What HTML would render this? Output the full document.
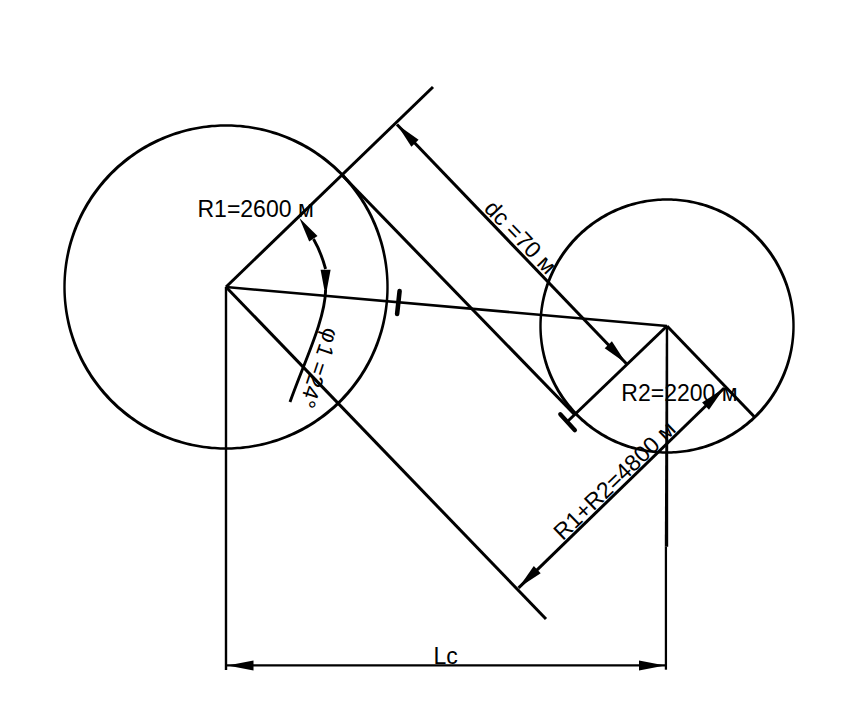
<!DOCTYPE html>
<html><head><meta charset="utf-8"><style>
html,body{margin:0;padding:0;background:#fff;width:849px;height:724px;overflow:hidden}
svg{display:block}
text{font-family:"Liberation Sans",sans-serif;fill:#000}
</style></head><body>
<svg width="849" height="724" viewBox="0 0 849 724">
<rect width="849" height="724" fill="#fff"/>
<g fill="#000">
<path fill-rule="evenodd" d="M388.70,287.00 L388.69,289.84 L388.63,292.68 L388.51,295.52 L388.35,298.35 L388.14,301.19 L387.88,304.01 L387.57,306.84 L387.21,309.66 L386.80,312.47 L386.34,315.27 L385.84,318.07 L385.28,320.86 L384.67,323.63 L384.02,326.40 L383.32,329.15 L382.57,331.89 L381.77,334.62 L380.92,337.34 L380.03,340.04 L379.08,342.72 L378.10,345.38 L377.06,348.03 L375.98,350.66 L374.85,353.27 L373.68,355.86 L372.46,358.43 L371.20,360.98 L369.89,363.51 L368.53,366.01 L367.14,368.49 L365.70,370.94 L364.22,373.37 L362.69,375.77 L361.12,378.14 L359.52,380.49 L357.87,382.81 L356.18,385.09 L354.45,387.35 L352.68,389.58 L350.87,391.78 L349.02,393.94 L347.14,396.07 L345.22,398.17 L343.26,400.23 L341.26,402.26 L339.23,404.26 L337.17,406.22 L335.07,408.14 L332.94,410.02 L330.78,411.87 L328.58,413.68 L326.35,415.45 L324.09,417.18 L321.81,418.87 L319.49,420.52 L317.14,422.12 L314.77,423.69 L312.37,425.22 L309.94,426.70 L307.49,428.14 L305.01,429.53 L302.51,430.89 L299.98,432.20 L297.43,433.46 L294.86,434.68 L292.27,435.85 L289.66,436.98 L287.03,438.06 L284.38,439.10 L281.72,440.08 L279.04,441.03 L276.34,441.92 L273.62,442.77 L270.89,443.57 L268.15,444.32 L265.40,445.02 L262.63,445.67 L259.86,446.28 L257.07,446.84 L254.27,447.34 L251.47,447.80 L248.66,448.21 L245.84,448.57 L243.01,448.88 L240.19,449.14 L237.35,449.35 L234.52,449.51 L231.68,449.63 L228.84,449.69 L226.00,449.70 L223.16,449.69 L220.32,449.63 L217.48,449.51 L214.65,449.35 L211.81,449.14 L208.99,448.88 L206.16,448.57 L203.34,448.21 L200.53,447.80 L197.73,447.34 L194.93,446.84 L192.14,446.28 L189.37,445.67 L186.60,445.02 L183.85,444.32 L181.11,443.57 L178.38,442.77 L175.66,441.92 L172.96,441.03 L170.28,440.08 L167.62,439.10 L164.97,438.06 L162.34,436.98 L159.73,435.85 L157.14,434.68 L154.57,433.46 L152.02,432.20 L149.49,430.89 L146.99,429.53 L144.51,428.14 L142.06,426.70 L139.63,425.22 L137.23,423.69 L134.86,422.12 L132.51,420.52 L130.19,418.87 L127.91,417.18 L125.65,415.45 L123.42,413.68 L121.22,411.87 L119.06,410.02 L116.93,408.14 L114.83,406.22 L112.77,404.26 L110.74,402.26 L108.74,400.23 L106.78,398.17 L104.86,396.07 L102.98,393.94 L101.13,391.78 L99.32,389.58 L97.55,387.35 L95.82,385.09 L94.13,382.81 L92.48,380.49 L90.88,378.14 L89.31,375.77 L87.78,373.37 L86.30,370.94 L84.86,368.49 L83.47,366.01 L82.11,363.51 L80.80,360.98 L79.54,358.43 L78.32,355.86 L77.15,353.27 L76.02,350.66 L74.94,348.03 L73.90,345.38 L72.92,342.72 L71.97,340.04 L71.08,337.34 L70.23,334.62 L69.43,331.89 L68.68,329.15 L67.98,326.40 L67.33,323.63 L66.72,320.86 L66.16,318.07 L65.66,315.27 L65.20,312.47 L64.79,309.66 L64.43,306.84 L64.12,304.01 L63.86,301.19 L63.65,298.35 L63.49,295.52 L63.37,292.68 L63.31,289.84 L63.30,287.00 L63.31,284.16 L63.37,281.32 L63.49,278.48 L63.65,275.65 L63.86,272.81 L64.12,269.99 L64.43,267.16 L64.79,264.34 L65.20,261.53 L65.66,258.73 L66.16,255.93 L66.72,253.14 L67.33,250.37 L67.98,247.60 L68.68,244.85 L69.43,242.11 L70.23,239.38 L71.08,236.66 L71.97,233.96 L72.92,231.28 L73.90,228.62 L74.94,225.97 L76.02,223.34 L77.15,220.73 L78.32,218.14 L79.54,215.57 L80.80,213.02 L82.11,210.49 L83.47,207.99 L84.86,205.51 L86.30,203.06 L87.78,200.63 L89.31,198.23 L90.88,195.86 L92.48,193.51 L94.13,191.19 L95.82,188.91 L97.55,186.65 L99.32,184.42 L101.13,182.22 L102.98,180.06 L104.86,177.93 L106.78,175.83 L108.74,173.77 L110.74,171.74 L112.77,169.74 L114.83,167.78 L116.93,165.86 L119.06,163.98 L121.22,162.13 L123.42,160.32 L125.65,158.55 L127.91,156.82 L130.19,155.13 L132.51,153.48 L134.86,151.88 L137.23,150.31 L139.63,148.78 L142.06,147.30 L144.51,145.86 L146.99,144.47 L149.49,143.11 L152.02,141.80 L154.57,140.54 L157.14,139.32 L159.73,138.15 L162.34,137.02 L164.97,135.94 L167.62,134.90 L170.28,133.92 L172.96,132.97 L175.66,132.08 L178.38,131.23 L181.11,130.43 L183.85,129.68 L186.60,128.98 L189.37,128.33 L192.14,127.72 L194.93,127.16 L197.73,126.66 L200.53,126.20 L203.34,125.79 L206.16,125.43 L208.99,125.12 L211.81,124.86 L214.65,124.65 L217.48,124.49 L220.32,124.37 L223.16,124.31 L226.00,124.30 L228.84,124.31 L231.68,124.37 L234.52,124.49 L237.35,124.65 L240.19,124.86 L243.01,125.12 L245.84,125.43 L248.66,125.79 L251.47,126.20 L254.27,126.66 L257.07,127.16 L259.86,127.72 L262.63,128.33 L265.40,128.98 L268.15,129.68 L270.89,130.43 L273.62,131.23 L276.34,132.08 L279.04,132.97 L281.72,133.92 L284.38,134.90 L287.03,135.94 L289.66,137.02 L292.27,138.15 L294.86,139.32 L297.43,140.54 L299.98,141.80 L302.51,143.11 L305.01,144.47 L307.49,145.86 L309.94,147.30 L312.37,148.78 L314.77,150.31 L317.14,151.88 L319.49,153.48 L321.81,155.13 L324.09,156.82 L326.35,158.55 L328.58,160.32 L330.78,162.13 L332.94,163.98 L335.07,165.86 L337.17,167.78 L339.23,169.74 L341.26,171.74 L343.26,173.77 L345.22,175.83 L347.14,177.93 L349.02,180.06 L350.87,182.22 L352.68,184.42 L354.45,186.65 L356.18,188.91 L357.87,191.19 L359.52,193.51 L361.12,195.86 L362.69,198.23 L364.22,200.63 L365.70,203.06 L367.14,205.51 L368.53,207.99 L369.89,210.49 L371.20,213.02 L372.46,215.57 L373.68,218.14 L374.85,220.73 L375.98,223.34 L377.06,225.97 L378.10,228.62 L379.08,231.28 L380.03,233.96 L380.92,236.66 L381.77,239.38 L382.57,242.11 L383.32,244.85 L384.02,247.60 L384.67,250.37 L385.28,253.14 L385.84,255.93 L386.34,258.73 L386.80,261.53 L387.21,264.34 L387.57,267.16 L387.88,269.99 L388.14,272.81 L388.35,275.65 L388.51,278.48 L388.63,281.32 L388.69,284.16Z M386.30,287.00 L386.26,289.80 L386.18,292.59 L386.04,295.39 L385.86,298.18 L385.63,300.97 L385.35,303.75 L385.02,306.53 L384.64,309.30 L384.22,312.06 L383.75,314.82 L383.23,317.56 L382.66,320.30 L382.05,323.03 L381.39,325.74 L380.68,328.45 L379.92,331.14 L379.12,333.81 L378.27,336.48 L377.38,339.12 L376.44,341.75 L375.45,344.37 L374.42,346.97 L373.34,349.54 L372.22,352.10 L371.06,354.64 L369.85,357.16 L368.60,359.66 L367.30,362.13 L365.97,364.59 L364.59,367.01 L363.17,369.42 L361.70,371.80 L360.20,374.15 L358.66,376.48 L357.07,378.78 L355.45,381.05 L353.78,383.29 L352.08,385.51 L350.34,387.69 L348.56,389.84 L346.75,391.97 L344.90,394.06 L343.01,396.11 L341.09,398.14 L339.13,400.13 L337.14,402.09 L335.11,404.01 L333.06,405.90 L330.97,407.75 L328.84,409.56 L326.69,411.34 L324.51,413.08 L322.29,414.78 L320.05,416.45 L317.78,418.07 L315.48,419.66 L313.15,421.20 L310.80,422.70 L308.42,424.17 L306.01,425.59 L303.59,426.97 L301.13,428.30 L298.66,429.60 L296.16,430.85 L293.64,432.06 L291.10,433.22 L288.54,434.34 L285.97,435.42 L283.37,436.45 L280.75,437.44 L278.12,438.38 L275.48,439.27 L272.81,440.12 L270.14,440.92 L267.45,441.68 L264.74,442.39 L262.03,443.05 L259.30,443.66 L256.56,444.23 L253.82,444.75 L251.06,445.22 L248.30,445.64 L245.53,446.02 L242.75,446.35 L239.97,446.63 L237.18,446.86 L234.39,447.04 L231.59,447.18 L228.80,447.26 L226.00,447.30 L223.20,447.26 L220.41,447.18 L217.61,447.04 L214.82,446.86 L212.03,446.63 L209.25,446.35 L206.47,446.02 L203.70,445.64 L200.94,445.22 L198.18,444.75 L195.44,444.23 L192.70,443.66 L189.97,443.05 L187.26,442.39 L184.55,441.68 L181.86,440.92 L179.19,440.12 L176.52,439.27 L173.88,438.38 L171.25,437.44 L168.63,436.45 L166.03,435.42 L163.46,434.34 L160.90,433.22 L158.36,432.06 L155.84,430.85 L153.34,429.60 L150.87,428.30 L148.41,426.97 L145.99,425.59 L143.58,424.17 L141.20,422.70 L138.85,421.20 L136.52,419.66 L134.22,418.07 L131.95,416.45 L129.71,414.78 L127.49,413.08 L125.31,411.34 L123.16,409.56 L121.03,407.75 L118.94,405.90 L116.89,404.01 L114.86,402.09 L112.87,400.13 L110.91,398.14 L108.99,396.11 L107.10,394.06 L105.25,391.97 L103.44,389.84 L101.66,387.69 L99.92,385.51 L98.22,383.29 L96.55,381.05 L94.93,378.78 L93.34,376.48 L91.80,374.15 L90.30,371.80 L88.83,369.42 L87.41,367.01 L86.03,364.59 L84.70,362.13 L83.40,359.66 L82.15,357.16 L80.94,354.64 L79.78,352.10 L78.66,349.54 L77.58,346.97 L76.55,344.37 L75.56,341.75 L74.62,339.12 L73.73,336.48 L72.88,333.81 L72.08,331.14 L71.32,328.45 L70.61,325.74 L69.95,323.03 L69.34,320.30 L68.77,317.56 L68.25,314.82 L67.78,312.06 L67.36,309.30 L66.98,306.53 L66.65,303.75 L66.37,300.97 L66.14,298.18 L65.96,295.39 L65.82,292.59 L65.74,289.80 L65.70,287.00 L65.74,284.20 L65.82,281.41 L65.96,278.61 L66.14,275.82 L66.37,273.03 L66.65,270.25 L66.98,267.47 L67.36,264.70 L67.78,261.94 L68.25,259.18 L68.77,256.44 L69.34,253.70 L69.95,250.97 L70.61,248.26 L71.32,245.55 L72.08,242.86 L72.88,240.19 L73.73,237.52 L74.62,234.88 L75.56,232.25 L76.55,229.63 L77.58,227.03 L78.66,224.46 L79.78,221.90 L80.94,219.36 L82.15,216.84 L83.40,214.34 L84.70,211.87 L86.03,209.41 L87.41,206.99 L88.83,204.58 L90.30,202.20 L91.80,199.85 L93.34,197.52 L94.93,195.22 L96.55,192.95 L98.22,190.71 L99.92,188.49 L101.66,186.31 L103.44,184.16 L105.25,182.03 L107.10,179.94 L108.99,177.89 L110.91,175.86 L112.87,173.87 L114.86,171.91 L116.89,169.99 L118.94,168.10 L121.03,166.25 L123.16,164.44 L125.31,162.66 L127.49,160.92 L129.71,159.22 L131.95,157.55 L134.22,155.93 L136.52,154.34 L138.85,152.80 L141.20,151.30 L143.58,149.83 L145.99,148.41 L148.41,147.03 L150.87,145.70 L153.34,144.40 L155.84,143.15 L158.36,141.94 L160.90,140.78 L163.46,139.66 L166.03,138.58 L168.63,137.55 L171.25,136.56 L173.88,135.62 L176.52,134.73 L179.19,133.88 L181.86,133.08 L184.55,132.32 L187.26,131.61 L189.97,130.95 L192.70,130.34 L195.44,129.77 L198.18,129.25 L200.94,128.78 L203.70,128.36 L206.47,127.98 L209.25,127.65 L212.03,127.37 L214.82,127.14 L217.61,126.96 L220.41,126.82 L223.20,126.74 L226.00,126.70 L228.80,126.74 L231.59,126.82 L234.39,126.96 L237.18,127.14 L239.97,127.37 L242.75,127.65 L245.53,127.98 L248.30,128.36 L251.06,128.78 L253.82,129.25 L256.56,129.77 L259.30,130.34 L262.03,130.95 L264.74,131.61 L267.45,132.32 L270.14,133.08 L272.81,133.88 L275.48,134.73 L278.12,135.62 L280.75,136.56 L283.37,137.55 L285.97,138.58 L288.54,139.66 L291.10,140.78 L293.64,141.94 L296.16,143.15 L298.66,144.40 L301.13,145.70 L303.59,147.03 L306.01,148.41 L308.42,149.83 L310.80,151.30 L313.15,152.80 L315.48,154.34 L317.78,155.93 L320.05,157.55 L322.29,159.22 L324.51,160.92 L326.69,162.66 L328.84,164.44 L330.97,166.25 L333.06,168.10 L335.11,169.99 L337.14,171.91 L339.13,173.87 L341.09,175.86 L343.01,177.89 L344.90,179.94 L346.75,182.03 L348.56,184.16 L350.34,186.31 L352.08,188.49 L353.78,190.71 L355.45,192.95 L357.07,195.22 L358.66,197.52 L360.20,199.85 L361.70,202.20 L363.17,204.58 L364.59,206.99 L365.97,209.41 L367.30,211.87 L368.60,214.34 L369.85,216.84 L371.06,219.36 L372.22,221.90 L373.34,224.46 L374.42,227.03 L375.45,229.63 L376.44,232.25 L377.38,234.88 L378.27,237.52 L379.12,240.19 L379.92,242.86 L380.68,245.55 L381.39,248.26 L382.05,250.97 L382.66,253.70 L383.23,256.44 L383.75,259.18 L384.22,261.94 L384.64,264.70 L385.02,267.47 L385.35,270.25 L385.63,273.03 L385.86,275.82 L386.04,278.61 L386.18,281.41 L386.26,284.20Z"/>
<path fill-rule="evenodd" d="M794.70,326.00 L794.69,328.23 L794.65,330.46 L794.56,332.69 L794.44,334.91 L794.28,337.14 L794.07,339.36 L793.83,341.57 L793.55,343.79 L793.23,345.99 L792.88,348.20 L792.48,350.39 L792.04,352.58 L791.57,354.76 L791.06,356.93 L790.51,359.09 L789.92,361.25 L789.30,363.39 L788.63,365.52 L787.93,367.64 L787.20,369.75 L786.42,371.84 L785.61,373.92 L784.76,375.99 L783.88,378.04 L782.96,380.07 L782.00,382.09 L781.01,384.09 L779.98,386.07 L778.92,388.04 L777.83,389.99 L776.70,391.91 L775.53,393.82 L774.34,395.71 L773.11,397.57 L771.85,399.41 L770.55,401.23 L769.22,403.03 L767.87,404.80 L766.48,406.55 L765.06,408.28 L763.61,409.98 L762.13,411.65 L760.62,413.30 L759.08,414.92 L757.52,416.52 L755.92,418.08 L754.30,419.62 L752.65,421.13 L750.98,422.61 L749.28,424.06 L747.55,425.48 L745.80,426.87 L744.03,428.22 L742.23,429.55 L740.41,430.85 L738.57,432.11 L736.71,433.34 L734.82,434.53 L732.91,435.70 L730.99,436.83 L729.04,437.92 L727.07,438.98 L725.09,440.01 L723.09,441.00 L721.07,441.96 L719.04,442.88 L716.99,443.76 L714.92,444.61 L712.84,445.42 L710.75,446.20 L708.64,446.93 L706.52,447.63 L704.39,448.30 L702.25,448.92 L700.09,449.51 L697.93,450.06 L695.76,450.57 L693.58,451.04 L691.39,451.48 L689.20,451.88 L686.99,452.23 L684.79,452.55 L682.57,452.83 L680.36,453.07 L678.14,453.28 L675.91,453.44 L673.69,453.56 L671.46,453.65 L669.23,453.69 L667.00,453.70 L664.77,453.69 L662.54,453.65 L660.31,453.56 L658.09,453.44 L655.86,453.28 L653.64,453.07 L651.43,452.83 L649.21,452.55 L647.01,452.23 L644.80,451.88 L642.61,451.48 L640.42,451.04 L638.24,450.57 L636.07,450.06 L633.91,449.51 L631.75,448.92 L629.61,448.30 L627.48,447.63 L625.36,446.93 L623.25,446.20 L621.16,445.42 L619.08,444.61 L617.01,443.76 L614.96,442.88 L612.93,441.96 L610.91,441.00 L608.91,440.01 L606.93,438.98 L604.96,437.92 L603.01,436.83 L601.09,435.70 L599.18,434.53 L597.29,433.34 L595.43,432.11 L593.59,430.85 L591.77,429.55 L589.97,428.22 L588.20,426.87 L586.45,425.48 L584.72,424.06 L583.02,422.61 L581.35,421.13 L579.70,419.62 L578.08,418.08 L576.48,416.52 L574.92,414.92 L573.38,413.30 L571.87,411.65 L570.39,409.98 L568.94,408.28 L567.52,406.55 L566.13,404.80 L564.78,403.03 L563.45,401.23 L562.15,399.41 L560.89,397.57 L559.66,395.71 L558.47,393.82 L557.30,391.91 L556.17,389.99 L555.08,388.04 L554.02,386.07 L552.99,384.09 L552.00,382.09 L551.04,380.07 L550.12,378.04 L549.24,375.99 L548.39,373.92 L547.58,371.84 L546.80,369.75 L546.07,367.64 L545.37,365.52 L544.70,363.39 L544.08,361.25 L543.49,359.09 L542.94,356.93 L542.43,354.76 L541.96,352.58 L541.52,350.39 L541.12,348.20 L540.77,345.99 L540.45,343.79 L540.17,341.57 L539.93,339.36 L539.72,337.14 L539.56,334.91 L539.44,332.69 L539.35,330.46 L539.31,328.23 L539.30,326.00 L539.31,323.77 L539.35,321.54 L539.44,319.31 L539.56,317.09 L539.72,314.86 L539.93,312.64 L540.17,310.43 L540.45,308.21 L540.77,306.01 L541.12,303.80 L541.52,301.61 L541.96,299.42 L542.43,297.24 L542.94,295.07 L543.49,292.91 L544.08,290.75 L544.70,288.61 L545.37,286.48 L546.07,284.36 L546.80,282.25 L547.58,280.16 L548.39,278.08 L549.24,276.01 L550.12,273.96 L551.04,271.93 L552.00,269.91 L552.99,267.91 L554.02,265.93 L555.08,263.96 L556.17,262.01 L557.30,260.09 L558.47,258.18 L559.66,256.29 L560.89,254.43 L562.15,252.59 L563.45,250.77 L564.78,248.97 L566.13,247.20 L567.52,245.45 L568.94,243.72 L570.39,242.02 L571.87,240.35 L573.38,238.70 L574.92,237.08 L576.48,235.48 L578.08,233.92 L579.70,232.38 L581.35,230.87 L583.02,229.39 L584.72,227.94 L586.45,226.52 L588.20,225.13 L589.97,223.78 L591.77,222.45 L593.59,221.15 L595.43,219.89 L597.29,218.66 L599.18,217.47 L601.09,216.30 L603.01,215.17 L604.96,214.08 L606.93,213.02 L608.91,211.99 L610.91,211.00 L612.93,210.04 L614.96,209.12 L617.01,208.24 L619.08,207.39 L621.16,206.58 L623.25,205.80 L625.36,205.07 L627.48,204.37 L629.61,203.70 L631.75,203.08 L633.91,202.49 L636.07,201.94 L638.24,201.43 L640.42,200.96 L642.61,200.52 L644.80,200.12 L647.01,199.77 L649.21,199.45 L651.43,199.17 L653.64,198.93 L655.86,198.72 L658.09,198.56 L660.31,198.44 L662.54,198.35 L664.77,198.31 L667.00,198.30 L669.23,198.31 L671.46,198.35 L673.69,198.44 L675.91,198.56 L678.14,198.72 L680.36,198.93 L682.57,199.17 L684.79,199.45 L686.99,199.77 L689.20,200.12 L691.39,200.52 L693.58,200.96 L695.76,201.43 L697.93,201.94 L700.09,202.49 L702.25,203.08 L704.39,203.70 L706.52,204.37 L708.64,205.07 L710.75,205.80 L712.84,206.58 L714.92,207.39 L716.99,208.24 L719.04,209.12 L721.07,210.04 L723.09,211.00 L725.09,211.99 L727.07,213.02 L729.04,214.08 L730.99,215.17 L732.91,216.30 L734.82,217.47 L736.71,218.66 L738.57,219.89 L740.41,221.15 L742.23,222.45 L744.03,223.78 L745.80,225.13 L747.55,226.52 L749.28,227.94 L750.98,229.39 L752.65,230.87 L754.30,232.38 L755.92,233.92 L757.52,235.48 L759.08,237.08 L760.62,238.70 L762.13,240.35 L763.61,242.02 L765.06,243.72 L766.48,245.45 L767.87,247.20 L769.22,248.97 L770.55,250.77 L771.85,252.59 L773.11,254.43 L774.34,256.29 L775.53,258.18 L776.70,260.09 L777.83,262.01 L778.92,263.96 L779.98,265.93 L781.01,267.91 L782.00,269.91 L782.96,271.93 L783.88,273.96 L784.76,276.01 L785.61,278.08 L786.42,280.16 L787.20,282.25 L787.93,284.36 L788.63,286.48 L789.30,288.61 L789.92,290.75 L790.51,292.91 L791.06,295.07 L791.57,297.24 L792.04,299.42 L792.48,301.61 L792.88,303.80 L793.23,306.01 L793.55,308.21 L793.83,310.43 L794.07,312.64 L794.28,314.86 L794.44,317.09 L794.56,319.31 L794.65,321.54 L794.69,323.77Z M792.30,326.00 L792.27,328.19 L792.20,330.37 L792.09,332.56 L791.94,334.74 L791.76,336.92 L791.54,339.09 L791.28,341.26 L790.99,343.42 L790.65,345.58 L790.28,347.74 L789.87,349.88 L789.43,352.02 L788.94,354.15 L788.42,356.27 L787.87,358.39 L787.28,360.49 L786.65,362.58 L785.98,364.66 L785.28,366.73 L784.55,368.78 L783.77,370.83 L782.97,372.85 L782.13,374.87 L781.25,376.87 L780.34,378.85 L779.39,380.82 L778.41,382.77 L777.40,384.70 L776.36,386.62 L775.28,388.51 L774.17,390.39 L773.02,392.25 L771.85,394.09 L770.64,395.91 L769.40,397.70 L768.13,399.48 L766.83,401.23 L765.50,402.96 L764.14,404.66 L762.75,406.35 L761.33,408.00 L759.89,409.64 L758.41,411.24 L756.91,412.83 L755.38,414.38 L753.83,415.91 L752.24,417.41 L750.64,418.89 L749.00,420.33 L747.35,421.75 L745.66,423.14 L743.96,424.50 L742.23,425.83 L740.48,427.13 L738.70,428.40 L736.91,429.64 L735.09,430.85 L733.25,432.02 L731.39,433.17 L729.51,434.28 L727.62,435.36 L725.70,436.40 L723.77,437.41 L721.82,438.39 L719.85,439.34 L717.87,440.25 L715.87,441.13 L713.85,441.97 L711.83,442.77 L709.78,443.55 L707.73,444.28 L705.66,444.98 L703.58,445.65 L701.49,446.28 L699.39,446.87 L697.27,447.42 L695.15,447.94 L693.02,448.43 L690.88,448.87 L688.74,449.28 L686.58,449.65 L684.42,449.99 L682.26,450.28 L680.09,450.54 L677.92,450.76 L675.74,450.94 L673.56,451.09 L671.37,451.20 L669.19,451.27 L667.00,451.30 L664.81,451.27 L662.63,451.20 L660.44,451.09 L658.26,450.94 L656.08,450.76 L653.91,450.54 L651.74,450.28 L649.58,449.99 L647.42,449.65 L645.26,449.28 L643.12,448.87 L640.98,448.43 L638.85,447.94 L636.73,447.42 L634.61,446.87 L632.51,446.28 L630.42,445.65 L628.34,444.98 L626.27,444.28 L624.22,443.55 L622.17,442.77 L620.15,441.97 L618.13,441.13 L616.13,440.25 L614.15,439.34 L612.18,438.39 L610.23,437.41 L608.30,436.40 L606.38,435.36 L604.49,434.28 L602.61,433.17 L600.75,432.02 L598.91,430.85 L597.09,429.64 L595.30,428.40 L593.52,427.13 L591.77,425.83 L590.04,424.50 L588.34,423.14 L586.65,421.75 L585.00,420.33 L583.36,418.89 L581.76,417.41 L580.17,415.91 L578.62,414.38 L577.09,412.83 L575.59,411.24 L574.11,409.64 L572.67,408.00 L571.25,406.35 L569.86,404.66 L568.50,402.96 L567.17,401.23 L565.87,399.48 L564.60,397.70 L563.36,395.91 L562.15,394.09 L560.98,392.25 L559.83,390.39 L558.72,388.51 L557.64,386.62 L556.60,384.70 L555.59,382.77 L554.61,380.82 L553.66,378.85 L552.75,376.87 L551.87,374.87 L551.03,372.85 L550.23,370.83 L549.45,368.78 L548.72,366.73 L548.02,364.66 L547.35,362.58 L546.72,360.49 L546.13,358.39 L545.58,356.27 L545.06,354.15 L544.57,352.02 L544.13,349.88 L543.72,347.74 L543.35,345.58 L543.01,343.42 L542.72,341.26 L542.46,339.09 L542.24,336.92 L542.06,334.74 L541.91,332.56 L541.80,330.37 L541.73,328.19 L541.70,326.00 L541.73,323.81 L541.80,321.63 L541.91,319.44 L542.06,317.26 L542.24,315.08 L542.46,312.91 L542.72,310.74 L543.01,308.58 L543.35,306.42 L543.72,304.26 L544.13,302.12 L544.57,299.98 L545.06,297.85 L545.58,295.73 L546.13,293.61 L546.72,291.51 L547.35,289.42 L548.02,287.34 L548.72,285.27 L549.45,283.22 L550.23,281.17 L551.03,279.15 L551.87,277.13 L552.75,275.13 L553.66,273.15 L554.61,271.18 L555.59,269.23 L556.60,267.30 L557.64,265.38 L558.72,263.49 L559.83,261.61 L560.98,259.75 L562.15,257.91 L563.36,256.09 L564.60,254.30 L565.87,252.52 L567.17,250.77 L568.50,249.04 L569.86,247.34 L571.25,245.65 L572.67,244.00 L574.11,242.36 L575.59,240.76 L577.09,239.17 L578.62,237.62 L580.17,236.09 L581.76,234.59 L583.36,233.11 L585.00,231.67 L586.65,230.25 L588.34,228.86 L590.04,227.50 L591.77,226.17 L593.52,224.87 L595.30,223.60 L597.09,222.36 L598.91,221.15 L600.75,219.98 L602.61,218.83 L604.49,217.72 L606.38,216.64 L608.30,215.60 L610.23,214.59 L612.18,213.61 L614.15,212.66 L616.13,211.75 L618.13,210.87 L620.15,210.03 L622.17,209.23 L624.22,208.45 L626.27,207.72 L628.34,207.02 L630.42,206.35 L632.51,205.72 L634.61,205.13 L636.73,204.58 L638.85,204.06 L640.98,203.57 L643.12,203.13 L645.26,202.72 L647.42,202.35 L649.58,202.01 L651.74,201.72 L653.91,201.46 L656.08,201.24 L658.26,201.06 L660.44,200.91 L662.63,200.80 L664.81,200.73 L667.00,200.70 L669.19,200.73 L671.37,200.80 L673.56,200.91 L675.74,201.06 L677.92,201.24 L680.09,201.46 L682.26,201.72 L684.42,202.01 L686.58,202.35 L688.74,202.72 L690.88,203.13 L693.02,203.57 L695.15,204.06 L697.27,204.58 L699.39,205.13 L701.49,205.72 L703.58,206.35 L705.66,207.02 L707.73,207.72 L709.78,208.45 L711.83,209.23 L713.85,210.03 L715.87,210.87 L717.87,211.75 L719.85,212.66 L721.82,213.61 L723.77,214.59 L725.70,215.60 L727.62,216.64 L729.51,217.72 L731.39,218.83 L733.25,219.98 L735.09,221.15 L736.91,222.36 L738.70,223.60 L740.48,224.87 L742.23,226.17 L743.96,227.50 L745.66,228.86 L747.35,230.25 L749.00,231.67 L750.64,233.11 L752.24,234.59 L753.83,236.09 L755.38,237.62 L756.91,239.17 L758.41,240.76 L759.89,242.36 L761.33,244.00 L762.75,245.65 L764.14,247.34 L765.50,249.04 L766.83,250.77 L768.13,252.52 L769.40,254.30 L770.64,256.09 L771.85,257.91 L773.02,259.75 L774.17,261.61 L775.28,263.49 L776.36,265.38 L777.40,267.30 L778.41,269.23 L779.39,271.18 L780.34,273.15 L781.25,275.13 L782.13,277.13 L782.97,279.15 L783.77,281.17 L784.55,283.22 L785.28,285.27 L785.98,287.34 L786.65,289.42 L787.28,291.51 L787.87,293.61 L788.42,295.73 L788.94,297.85 L789.43,299.98 L789.87,302.12 L790.28,304.26 L790.65,306.42 L790.99,308.58 L791.28,310.74 L791.54,312.91 L791.76,315.08 L791.94,317.26 L792.09,319.44 L792.20,321.63 L792.27,323.81Z"/>
<polygon points="665.8,326 668.2,326 668.2,546.7 664.8,546.7"/>
<rect x="664.8" y="546.7" width="2.25" height="123"/>
<polygon points="227.5,665.4 253.5,670.4 253.5,660.4"/>
<polygon points="665.0,665.4 639.0,660.4 639.0,670.4"/>
<polygon points="397.0,124.5 411.4,146.7 418.6,139.8"/>
<polygon points="626.3,363.5 611.9,341.3 604.7,348.2"/>
<polygon points="518.6,587.8 540.7,573.3 533.8,566.1"/>
<polygon points="724.2,388.0 702.1,402.5 709.0,409.7"/>
<polygon points="299.4,218.0 309.2,241.5 317.5,236.0"/>
<polygon points="325.6,296.8 330.6,269.8 320.6,269.8"/>
</g>
<g stroke="#000" stroke-linecap="butt" fill="none">
<line x1="226" y1="287" x2="433" y2="87" stroke-width="3.02"/>
<line x1="226" y1="287" x2="546" y2="619" stroke-width="3.02"/>
<line x1="226" y1="287" x2="667" y2="326" stroke-width="2.53"/>
<line x1="342" y1="175" x2="574" y2="414" stroke-width="3.02"/>
<line x1="667" y1="326" x2="568" y2="421" stroke-width="3.02"/>
<line x1="667" y1="326" x2="754.6" y2="417" stroke-width="3.02"/>
<line x1="226" y1="287" x2="226" y2="670" stroke-width="2.40"/>
<line x1="227" y1="665.4" x2="665" y2="665.4" stroke-width="2.40"/>
<line x1="397" y1="124.5" x2="626.3" y2="363.5" stroke-width="3.02"/>
<line x1="518.6" y1="587.8" x2="724.2" y2="388" stroke-width="3.02"/>
<line x1="399.6" y1="291" x2="397.1" y2="314" stroke-width="4.57" stroke-linecap="round"/>
<line x1="560.3" y1="414.2" x2="574.9" y2="430.2" stroke-width="4.27" stroke-linecap="round"/>
<path d="M313.5,239 Q321,252 325.6,269 M325.6,290 C325,320 305,360 290,402" fill="none" stroke-width="2.9"/>
</g>

<text x="197.5" y="216.5" font-size="23">R1=2600 м</text>
<text x="621.3" y="400.6" font-size="23">R2=2200 м</text>
<text x="433.5" y="664.3" font-size="23">Lc</text>
<g transform="translate(483,209.5) rotate(46)"><text x="0" y="0" font-size="23">dc =70 м</text></g>
<g transform="translate(562.7,541.3) rotate(-44)"><text x="0" y="0" font-size="23">R1+R2=4800 м</text></g>
<g transform="translate(325,326.5) rotate(108.5)"><text x="0" y="0" font-size="22.5">φ<tspan dx="2">1 =24°</tspan></text></g>

</svg>
</body></html>
